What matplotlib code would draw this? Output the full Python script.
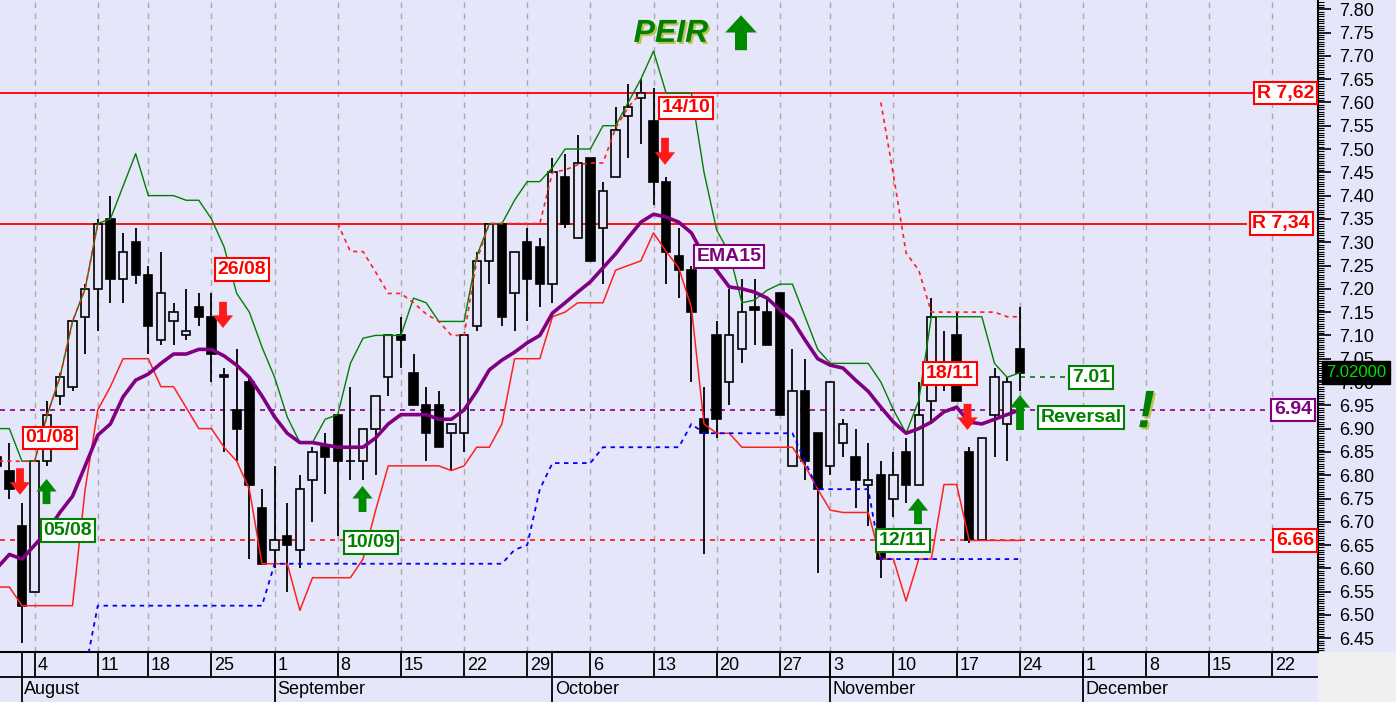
import numpy as np
import pandas as pd
import matplotlib
matplotlib.use('Agg')
import matplotlib.pyplot as plt
from matplotlib.patches import FancyArrow, Rectangle
import matplotlib.patheffects as pe
import matplotlib.transforms as mtransforms
from matplotlib.ticker import MultipleLocator, FormatStrFormatter

plt.rcParams['font.family'] = ['Liberation Sans', 'DejaVu Sans']

# ---------------- data (Jul 30 2025 .. Nov 24 2025, trading days) ----------------
opens = [6.84, 6.81, 6.69, 6.55, 6.83, 6.97, 6.99, 7.14, 7.20, 7.35,
         7.22, 7.30, 7.23, 7.09, 7.13, 7.10, 7.16, 7.14, 7.015, 6.94,
         7.00, 6.73, 6.64, 6.67, 6.64, 6.79, 6.86, 6.93, 6.83, 6.83,
         6.90, 7.01, 7.10, 7.02, 6.95, 6.95, 6.89, 6.89, 7.12, 7.26,
         7.34, 7.19, 7.30, 7.29, 7.21, 7.44, 7.31, 7.48, 7.33, 7.44,
         7.57, 7.61, 7.56, 7.43, 7.27, 7.24, 6.92, 7.10, 7.00, 7.07,
         7.16, 7.15, 7.19, 6.82, 6.98, 6.89, 6.82, 6.87, 6.84, 6.78,
         6.80, 6.75, 6.85, 6.78, 6.96, 7.00, 7.10, 6.85, 6.66, 6.93,
         6.91, 7.07]
highs = [6.87, 6.87, 6.74, 6.83, 6.96, 7.02, 7.13, 7.21, 7.35, 7.40,
         7.32, 7.33, 7.25, 7.28, 7.17, 7.20, 7.19, 7.19, 7.03, 7.07,
         7.01, 6.77, 6.82, 6.74, 6.80, 6.86, 6.89, 6.93, 6.99, 6.90,
         6.97, 7.10, 7.14, 7.06, 6.99, 6.98, 6.91, 7.10, 7.28, 7.34,
         7.34, 7.28, 7.33, 7.31, 7.48, 7.49, 7.53, 7.48, 7.43, 7.59,
         7.64, 7.65, 7.63, 7.44, 7.33, 7.25, 6.99, 7.13, 7.20, 7.22,
         7.22, 7.18, 7.19, 7.07, 7.05, 6.89, 7.00, 6.92, 6.90, 6.87,
         6.83, 6.85, 6.88, 7.00, 7.18, 7.11, 7.15, 6.86, 6.88, 7.03,
         7.01, 7.16]
lows = [6.80, 6.75, 6.44, 6.55, 6.82, 6.95, 6.98, 7.06, 7.11, 7.17,
        7.17, 7.21, 7.06, 7.08, 7.08, 7.09, 7.12, 7.00, 6.85, 6.83,
        6.62, 6.61, 6.60, 6.55, 6.60, 6.70, 6.76, 6.67, 6.79, 6.79,
        6.80, 6.97, 7.03, 6.95, 6.83, 6.86, 6.81, 6.85, 7.11, 7.21,
        7.12, 7.11, 7.13, 7.16, 7.17, 7.33, 7.31, 7.26, 7.21, 7.44,
        7.48, 7.51, 7.38, 7.21, 7.18, 7.00, 6.63, 6.88, 6.95, 7.04,
        7.08, 7.08, 6.93, 6.82, 6.79, 6.59, 6.80, 6.84, 6.73, 6.69,
        6.58, 6.71, 6.74, 6.78, 6.91, 6.98, 6.96, 6.655, 6.66, 6.84,
        6.83, 6.98]
closes = [6.82, 6.77, 6.52, 6.83, 6.93, 7.01, 7.13, 7.20, 7.34, 7.22,
          7.28, 7.23, 7.12, 7.19, 7.15, 7.11, 7.14, 7.06, 7.01, 6.90,
          6.78, 6.61, 6.66, 6.65, 6.77, 6.85, 6.84, 6.83, 6.83, 6.90,
          6.97, 7.10, 7.09, 6.95, 6.89, 6.86, 6.91, 7.10, 7.26, 7.34,
          7.14, 7.28, 7.22, 7.21, 7.45, 7.34, 7.47, 7.26, 7.41, 7.54,
          7.59, 7.62, 7.43, 7.28, 7.24, 7.15, 6.89, 6.92, 7.10, 7.15,
          7.155, 7.08, 6.93, 6.98, 6.83, 6.77, 7.00, 6.91, 6.79, 6.79,
          6.62, 6.80, 6.78, 6.93, 7.14, 7.04, 6.96, 6.66, 6.88, 7.01,
          7.00, 7.02]
ema15 = [6.60, 6.63, 6.62, 6.65, 6.68, 6.72, 6.755, 6.82, 6.886, 6.91,
         6.968, 7.004, 7.017, 7.04, 7.06, 7.06, 7.07, 7.07, 7.056, 7.036,
         7.01, 6.97, 6.925, 6.89, 6.87, 6.87, 6.865, 6.86, 6.86, 6.86,
         6.88, 6.91, 6.93, 6.93, 6.93, 6.92, 6.92, 6.94, 6.98, 7.026,
         7.047, 7.064, 7.084, 7.10, 7.148, 7.17, 7.193, 7.215, 7.245, 7.275,
         7.31, 7.343, 7.36, 7.354, 7.343, 7.32, 7.27, 7.24, 7.204, 7.20,
         7.193, 7.18, 7.155, 7.133, 7.09, 7.05, 7.036, 7.03, 7.004, 6.98,
         6.946, 6.914, 6.89, 6.90, 6.914, 6.936, 6.946, 6.914, 6.91, 6.92,
         6.93, 6.94]
upper_band = [6.90, 6.90, 6.83, 6.83, 6.93, 7.01, 7.13, 7.20, 7.34, 7.35,
              7.42, 7.49, 7.40, 7.40, 7.40, 7.39, 7.39, 7.35, 7.29, 7.19,
              7.15, 7.075, 7.01, 6.925, 6.87, 6.87, 6.92, 6.93, 7.04, 7.094,
              7.10, 7.10, 7.10, 7.18, 7.17, 7.13, 7.13, 7.13, 7.27, 7.34,
              7.34, 7.39, 7.43, 7.43, 7.46, 7.50, 7.50, 7.50, 7.55, 7.55,
              7.60, 7.65, 7.71, 7.62, 7.62, 7.62, 7.45, 7.326, 7.277, 7.17,
              7.176, 7.197, 7.21, 7.21, 7.14, 7.07, 7.04, 7.04, 7.04, 7.04,
              7.00, 6.94, 6.89, 6.96, 7.14, 7.14, 7.14, 7.14, 7.14, 7.04,
              7.01, 7.02]
lower_band = [6.56, 6.56, 6.52, 6.52, 6.52, 6.52, 6.52, 6.77, 6.94, 6.99,
              7.05, 7.05, 7.05, 6.99, 6.99, 6.945, 6.90, 6.90, 6.86, 6.83,
              6.77, 6.61, 6.61, 6.61, 6.51, 6.58, 6.58, 6.58, 6.58, 6.62,
              6.725, 6.82, 6.82, 6.82, 6.82, 6.82, 6.81, 6.82, 6.86, 6.86,
              6.91, 7.05, 7.05, 7.05, 7.14, 7.15, 7.17, 7.17, 7.17, 7.24,
              7.25, 7.26, 7.32, 7.28, 7.245, 7.16, 6.91, 6.89, 6.89, 6.86,
              6.86, 6.86, 6.86, 6.86, 6.82, 6.77, 6.725, 6.72, 6.72, 6.72,
              6.62, 6.62, 6.53, 6.62, 6.62, 6.78, 6.78, 6.66, 6.66, 6.66,
              6.66, 6.66]
nan = np.nan
stop_red = [6.83, 6.83, 6.83, 6.83, 6.93, 7.01, 7.13, 7.20, 7.34, nan,
            nan, nan, nan, nan, nan, nan, nan, nan, nan, nan,
            nan, nan, nan, nan, nan, nan, nan, 7.34, 7.28, 7.28,
            7.236, 7.19, 7.19, 7.17, 7.146, 7.13, 7.10, 7.10, 7.26, 7.34,
            7.34, 7.34, 7.34, 7.34, 7.45, 7.455, 7.466, 7.47, 7.47, 7.545,
            7.59, 7.62, nan, nan, nan, nan, nan, nan, nan, nan,
            nan, nan, nan, nan, nan, nan, nan, nan, nan, nan,
            7.60, 7.444, 7.277, 7.24, 7.15, 7.15, 7.15, 7.15, 7.15, 7.15,
            7.14, 7.14]
stop_blue = [nan, nan, nan, nan, nan, nan, nan, 6.38, 6.52, 6.52,
             6.52, 6.52, 6.52, 6.52, 6.52, 6.52, 6.52, 6.52, 6.52, 6.52,
             6.52, 6.52, 6.61, 6.61, 6.61, 6.61, 6.61, 6.61, 6.61, 6.61,
             6.61, 6.61, 6.61, 6.61, 6.61, 6.61, 6.61, 6.61, 6.61, 6.61,
             6.61, 6.64, 6.65, 6.77, 6.826, 6.826, 6.826, 6.826, 6.86, 6.86,
             6.86, 6.86, 6.86, 6.86, 6.86, 6.91, 6.89, 6.89, 6.89, 6.89,
             6.89, 6.89, 6.89, 6.89, 6.83, 6.77, 6.77, 6.77, 6.77, 6.77,
             6.62, 6.62, 6.62, 6.62, 6.62, 6.62, 6.62, 6.62, 6.62, 6.62,
             6.62, 6.62]

resistances = [7.62, 7.34]
res_labels = ['R 7,62', 'R 7,34']
ema_level = 6.94
support_level = 6.66
proj_level = 7.01
last_price = 7.02
ytick_values = np.round(np.arange(6.45, 7.801, 0.05), 2)

# ---------------- calendar ----------------
holidays = pd.to_datetime(['2025-08-15', '2025-10-28'])
cal = pd.bdate_range('2025-07-30', '2026-01-15')
cal = cal[~cal.isin(holidays)]
n = len(opens)
xpos = np.arange(n)

BG = '#E6E6FA'
W, H = 1396, 702
PXD = 12.63          # pixels per trading day
X0PIX = 22           # pixel of Aug 1 (position 2)


def pos(px):
    return (px - X0PIX) / PXD + 2


XL = (pos(0), pos(1318))
YL = (6.4206, 7.8176)

fig = plt.figure(figsize=(W / 100, H / 100), dpi=100, facecolor=BG)
ax = fig.add_axes([0, 50 / H, 1318 / W, 651 / H])
ax.set_facecolor(BG)
ax.set_xlim(*XL)
ax.set_ylim(*YL)

# weekly grid (Mondays)
mondays = [i for i, d in enumerate(cal) if d.weekday() == 0 and XL[0] < i < XL[1]]
ax.vlines(mondays, YL[0], YL[1], colors='#A8A8A8', linestyles=(0, (4, 4)), lw=1.0, zorder=0.5)

# horizontal levels
ax.hlines(resistances[0], XL[0], pos(1254), colors='#FF1010', lw=1.4, zorder=2)
ax.hlines(resistances[1], XL[0], pos(1247), colors='#FF1010', lw=1.4, zorder=2)
ax.hlines(ema_level, XL[0], pos(1268), colors='#800080', linestyles=(0, (3, 3)), lw=1.2, zorder=2)
ax.hlines(support_level, XL[0], pos(1273), colors='#FF1010', linestyles=(0, (3, 3)), lw=1.2, zorder=2)
ax.hlines(proj_level, xpos[-1], pos(1068), colors='#008000', linestyles=(0, (3, 3)), lw=1.2, zorder=2)

# candles
o = np.array(opens); c = np.array(closes); h = np.array(highs); l = np.array(lows)
up = c >= o
ax.vlines(xpos, l, h, colors='black', lw=1.3, zorder=3)
bb = np.minimum(o, c)
bh = np.maximum(np.abs(c - o), 0.0015)
ax.bar(xpos[up], bh[up], bottom=bb[up], width=0.66, facecolor=BG, edgecolor='black', lw=1.2, zorder=3.5)
ax.bar(xpos[~up], bh[~up], bottom=bb[~up], width=0.66, facecolor='black', edgecolor='black', lw=1.2, zorder=3.5)

# indicator lines
ax.plot(xpos, upper_band, color='#008000', lw=1.0, zorder=4)
ax.plot(xpos, lower_band, color='#FF2020', lw=1.1, zorder=4)
ax.plot(xpos, stop_red, color='#FF2020', lw=1.2, ls=(0, (2.5, 2.5)), zorder=4)
ax.plot(xpos, stop_blue, color='#0000FF', lw=1.3, ls=(0, (2.5, 2.5)), zorder=4)
ax.plot(xpos, ema15, color='#800080', lw=2.6, zorder=5)


# labels
def box(x, y, s, color, ha='center', fs=14):
    ax.text(x, y, s, color=color, fontsize=fs, fontweight='bold', ha=ha, va='center',
            bbox=dict(boxstyle='square,pad=0.15', fc='white', ec=color, lw=1.5), zorder=9,
            clip_on=False)


RED = '#FF0000'
GRN = '#008000'
PUR = '#800080'
box(pos(50), 6.88, '01/08', RED)
box(pos(68), 6.682, '05/08', GRN)
box(pos(242), 7.242, '26/08', RED)
box(pos(371), 6.655, '10/09', GRN)
box(pos(686), 7.588, '14/10', RED)
box(pos(729), 7.27, 'EMA15', PUR)
box(pos(950), 7.019, '18/11', RED)
box(pos(903), 6.659, '12/11', GRN)
box(pos(1081), 6.923, 'Reversal', GRN)
box(pos(1091), proj_level, f'{proj_level:.2f}', GRN)
box(pos(1314), resistances[0], res_labels[0], RED, ha='right')
box(pos(1310), resistances[1], res_labels[1], RED, ha='right')
box(pos(1312), ema_level, f'{ema_level:.2f}', PUR, ha='right')
box(pos(1314), support_level, f'{support_level:.2f}', RED, ha='right')

shadow = [pe.withSimplePatchShadow(offset=(1.5, -1.5), shadow_rgbFace='#B8C040', alpha=0.9)]
ax.text(pos(671), 7.747, 'PEIR', color=GRN, fontsize=23, fontweight='bold', style='italic',
        ha='center', va='center', zorder=9, path_effects=shadow)
ax.text(pos(1146), 6.933, '!', color=GRN, fontsize=38, fontweight='bold', style='italic',
        ha='center', va='center', zorder=9, path_effects=shadow)


def arrow(xc, tail, tip, color, w=0.62, hw=1.6, hl=0.027):
    a = FancyArrow(xc, tail, 0, tip - tail, width=w, head_width=hw, head_length=hl,
                   length_includes_head=True, color=color, zorder=8, lw=0)
    ax.add_patch(a)


ARED = '#FF1A1A'
AGRN = '#008A00'
arrow(pos(20), 6.815, 6.758, ARED)
arrow(pos(46.5), 6.738, 6.792, AGRN)
arrow(pos(223), 7.172, 7.116, ARED)
arrow(pos(362.5), 6.721, 6.777, AGRN)
arrow(pos(665), 7.524, 7.466, ARED)
arrow(pos(918), 6.695, 6.751, AGRN)
arrow(pos(967.5), 6.953, 6.897, ARED)
arrow(pos(1020), 6.897, 6.972, AGRN)
arrow(pos(741), 7.712, 7.787, AGRN, w=0.95, hw=2.5, hl=0.037)

# right axis
for s in ['left', 'top']:
    ax.spines[s].set_visible(False)
ax.spines['right'].set_linewidth(1.5)
ax.spines['bottom'].set_linewidth(1.5)
ax.yaxis.tick_right()
ax.set_yticks(ytick_values)
ax.yaxis.set_major_formatter(FormatStrFormatter('%.2f'))
ax.yaxis.set_minor_locator(MultipleLocator(0.005))
ax.tick_params(axis='y', which='major', length=9, width=1.2, pad=6, labelsize=13, direction='out')
ax.tick_params(axis='y', which='minor', length=4, width=0.8, direction='out')
ax.tick_params(axis='x', which='both', bottom=False, labelbottom=False)

trans = mtransforms.blended_transform_factory(ax.transAxes, ax.transData)
ax.text(1326 / 1318, last_price, f'{last_price:.5f}', transform=trans, color='#00E000',
        fontsize=12, ha='left', va='center', zorder=10, clip_on=False,
        bbox=dict(boxstyle='square,pad=0.25', fc='black', ec='black'))

# bottom date axis
axb = fig.add_axes([0, 0, 1318 / W, 50 / H])
axb.set_xlim(*XL)
axb.set_ylim(0, 50)
axb.axis('off')
axb.hlines(25, XL[0], XL[1], colors='black', lw=1.3)
month_names = {8: 'August', 9: 'September', 10: 'October', 11: 'November', 12: 'December'}
first_days = [i for i, d in enumerate(cal)
              if i > 0 and d.month != cal[i - 1].month and XL[0] < i < XL[1]]
for i in mondays:
    axb.vlines(i, 25, 50, colors='black', lw=1.3)
    axb.text(i + 0.22, 37, str(cal[i].day), fontsize=13, ha='left', va='center')
for i in first_days:
    axb.vlines(i, 0, 50, colors='black', lw=1.3)
    axb.text(i + 0.18, 12.5, month_names[cal[i].month], fontsize=13, ha='left', va='center')

fig.patches.append(Rectangle((1318 / W, 0), 78 / W, 50 / H, transform=fig.transFigure,
                             fc='#F0F0F0', ec='none', zorder=-1))

fig.savefig('out.png', dpi=100, facecolor=BG)
